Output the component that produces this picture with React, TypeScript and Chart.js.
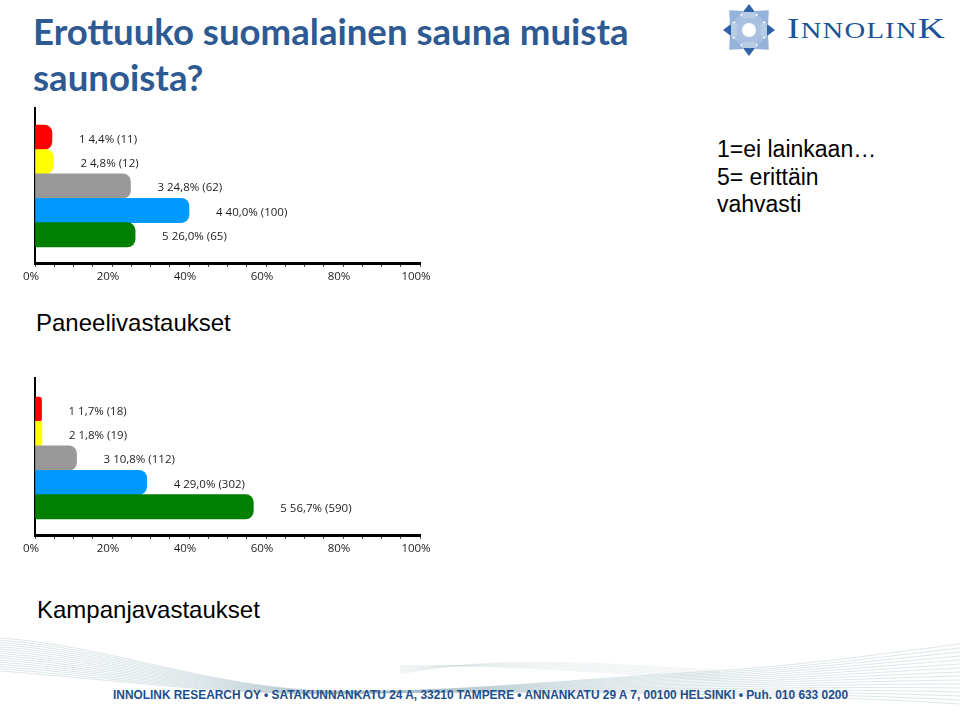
import React, { useEffect, useLayoutEffect, useRef } from 'react';
import { Chart, registerables } from 'chart.js';

Chart.register(...registerables);

// ---- data ----
const categories = ['1', '2', '3', '4', '5'];
const panelPercent = [4.4, 4.8, 24.8, 40.0, 26.0];
const panelCount = [11, 12, 62, 100, 65];
const campaignPercent = [1.7, 1.8, 10.8, 29.0, 56.7];
const campaignCount = [18, 19, 112, 302, 590];
const barColors = ['#FF0000', '#FFFF00', '#999999', '#0099FF', '#008000'];
const xTickLabels = ['0%', '20%', '40%', '60%', '80%', '100%'];

const LABEL_FONT = '"Open Sans", "DejaVu Sans", sans-serif';

function BarPanel(props: {
  percents: number[];
  counts: number[];
  yMin: number;
  yMax: number;
  top: number;
  xHeight: number;
}) {
  const { percents, counts, yMin, yMax, top, xHeight } = props;
  const ref = useRef<HTMLCanvasElement>(null);
  useEffect(() => {
    if (!ref.current) return;
    const labelPlugin = {
      id: 'valueLabels',
      afterDatasetsDraw(chart: any) {
        const ctx = chart.ctx;
        const meta = chart.getDatasetMeta(0);
        ctx.save();
        ctx.font = '11.5px ' + LABEL_FONT;
        ctx.fillStyle = '#1E1E1E';
        ctx.textAlign = 'left';
        ctx.textBaseline = 'middle';
        meta.data.forEach((bar: any, i: number) => {
          const text = `${categories[i]} ${percents[i].toFixed(1).replace('.', ',')}% (${counts[i]})`;
          ctx.fillText(text, bar.x + 27, bar.y + 2);
        });
        ctx.restore();
      },
    };
    const chart = new Chart(ref.current, {
      type: 'bar',
      data: {
        datasets: [
          {
            data: percents.map((p, i) => ({ x: p, y: i })) as any,
            backgroundColor: barColors,
            borderRadius: 8,
            borderSkipped: 'start',
            barPercentage: 1,
            categoryPercentage: 1,
          },
        ],
      },
      options: {
        indexAxis: 'y',
        animation: false,
        responsive: false,
        maintainAspectRatio: false,
        events: [],
        layout: { padding: { left: 35, right: 30, top: 13, bottom: 0 } },
        plugins: { legend: { display: false }, tooltip: { enabled: false } },
        scales: {
          x: {
            type: 'linear',
            min: 0,
            max: 100,
            offset: false,
            afterFit: (s: any) => {
              s.height = xHeight;
            },
            ticks: {
              stepSize: 5,
              autoSkip: false,
              maxTicksLimit: 50,
              maxRotation: 0,
              padding: 3,
              labelOffset: -4,
              color: '#1E1E1E',
              font: { family: LABEL_FONT, size: 11.5 },
              callback: (v: any) => (Number(v) % 20 === 0 ? xTickLabels[Number(v) / 20] : ''),
            },
            grid: {
              display: true,
              offset: false,
              drawOnChartArea: false,
              drawTicks: true,
              tickLength: 4,
              color: '#555555',
              lineWidth: 1,
            },
            border: { display: true, color: '#000000', width: 3 },
          },
          y: {
            type: 'linear',
            reverse: true,
            bounds: 'data',
            offset: false,
            min: yMin,
            max: yMax,
            z: 1,
            afterFit: (s: any) => {
              s.width = 0;
            },
            ticks: { display: false, stepSize: 10 },
            grid: { display: false, drawTicks: false, offset: false },
            border: { display: true, color: '#000000', width: 2 },
          },
        },
      } as any,
      plugins: [labelPlugin],
    });
    return () => chart.destroy();
  }, []);
  return (
    <canvas
      ref={ref}
      width={450}
      height={200}
      style={{ position: 'absolute', left: 0, top, width: 450, height: 200 }}
    />
  );
}

function FitText(props: { width: number; style: React.CSSProperties; children: React.ReactNode }) {
  const ref = useRef<HTMLDivElement>(null);
  useLayoutEffect(() => {
    const el = ref.current;
    if (!el) return;
    el.style.transform = 'none';
    const w = el.getBoundingClientRect().width;
    if (w > 0) el.style.transform = `scaleX(${props.width / w})`;
  }, []);
  return (
    <div
      ref={ref}
      style={{
        position: 'absolute',
        display: 'inline-block',
        whiteSpace: 'nowrap',
        transformOrigin: 'left top',
        ...props.style,
      }}
    >
      {props.children}
    </div>
  );
}

function LogoIcon() {
  const diag = [45, 135, 225, 315];
  const card = [0, 90, 180, 270];
  return (
    <svg width={56} height={56} style={{ position: 'absolute', left: 721, top: 2 }} viewBox="0 0 56 56">
      <g transform="translate(28,28)">
        {card.map((a) => (
          <g key={'c' + a} transform={`rotate(${a})`}>
            <rect x={11} y={-7} width={8} height={14} fill="#B9CCE6" />
            <polygon points="18,-6 26,0 18,6" fill="#2E62A6" />
          </g>
        ))}
        {diag.map((a) => (
          <g key={'d' + a} transform={`rotate(${a})`}>
            <rect x={10} y={-4.5} width={9} height={9} fill="#A6BFE0" />
            <polygon points="17,-10 28,0 17,10" fill="#95B3DA" />
          </g>
        ))}
        <circle cx={0} cy={0} r={9.5} fill="#FFFFFF" stroke="#A9C0E0" strokeWidth={5} />
      </g>
    </svg>
  );
}

function FooterWave() {
  const lines = Array.from({ length: 16 }, (_, i) => i);
  return (
    <svg width={960} height={85} style={{ position: 'absolute', left: 0, top: 630 }} viewBox="0 0 960 85">
      {lines.map((i) => (
        <path
          key={i}
          d={`M 0 ${8 + i * 2.2} C 110 ${16 + i * 2.2}, 210 ${58 + i * 0.4}, 330 ${61 + i * 0.2} C 450 ${63 - i * 0.1}, 560 ${50 + i * 0.8}, 700 ${42 + i * 1.5} C 800 ${36 + i * 2}, 880 ${24 + i * 3}, 960 ${14 + i * 4}`}
          fill="none"
          stroke="#9FB6BF"
          strokeWidth={0.7}
          opacity={0.5}
        />
      ))}
      {lines.slice(0, 8).map((i) => (
        <path
          key={'b' + i}
          d={`M 400 ${44 - i * 1.2} C 500 ${24 + i * 1.5}, 600 ${34 + i * 1.2}, 720 ${40 + i * 1.5}`}
          fill="none"
          stroke="#C3D0D4"
          strokeWidth={0.6}
          opacity={0.4}
        />
      ))}
    </svg>
  );
}

export default function App() {
  return (
    <div
      style={{
        position: 'absolute',
        left: 0,
        top: 0,
        width: 960,
        height: 715,
        background: '#FFFFFF',
        overflow: 'hidden',
        fontFamily: '"Liberation Sans", Arial, sans-serif',
      }}
    >
      <div
        style={{
          position: 'absolute',
          left: 33,
          top: 8,
          fontFamily: 'Lato, "Open Sans", sans-serif',
          fontWeight: 700,
          fontSize: 36.6,
          lineHeight: '46px',
          color: '#2E5A94',
          whiteSpace: 'nowrap',
        }}
      >
        Erottuuko suomalainen sauna muista
        <br />
        saunoista?
      </div>

      <LogoIcon />
      <FitText
        width={159}
        style={{
          left: 787,
          top: 13,
          fontFamily: '"Liberation Serif", "DejaVu Serif", serif',
          color: '#1B5299',
          lineHeight: '30px',
          letterSpacing: 1,
        }}
      >
        <span style={{ fontSize: 30 }}>I</span>
        <span style={{ fontSize: 23 }}>NNOLIN</span>
        <span style={{ fontSize: 30 }}>K</span>
      </FitText>

      <div
        style={{
          position: 'absolute',
          left: 717,
          top: 136,
          fontSize: 23,
          lineHeight: '27.5px',
          color: '#000',
          whiteSpace: 'nowrap',
        }}
      >
        1=ei lainkaan…
        <br />
        5= erittäin
        <br />
        vahvasti
      </div>

      <BarPanel percents={panelPercent} counts={panelCount} yMin={-1.2} yMax={5.156} top={95} xHeight={32} />
      <div style={{ position: 'absolute', left: 36, top: 309, fontSize: 24, lineHeight: '28px', color: '#000' }}>
        Paneelivastaukset
      </div>

      <BarPanel percents={campaignPercent} counts={campaignCount} yMin={-1.28} yMax={5.156} top={365} xHeight={30} />
      <div style={{ position: 'absolute', left: 37, top: 596, fontSize: 24, lineHeight: '28px', color: '#000' }}>
        Kampanjavastaukset
      </div>

      <FooterWave />
      <FitText
        width={735}
        style={{
          left: 113,
          top: 687,
          fontFamily: '"Liberation Sans", Arial, sans-serif',
          fontWeight: 700,
          fontSize: 13,
          lineHeight: '15px',
          color: '#1F4E8C',
        }}
      >
        {'INNOLINK RESEARCH OY  \u2022  SATAKUNNANKATU 24 A, 33210 TAMPERE   \u2022  ANNANKATU 29 A 7, 00100 HELSINKI   \u2022  Puh.  010 633 0200'}
      </FitText>
    </div>
  );
}
